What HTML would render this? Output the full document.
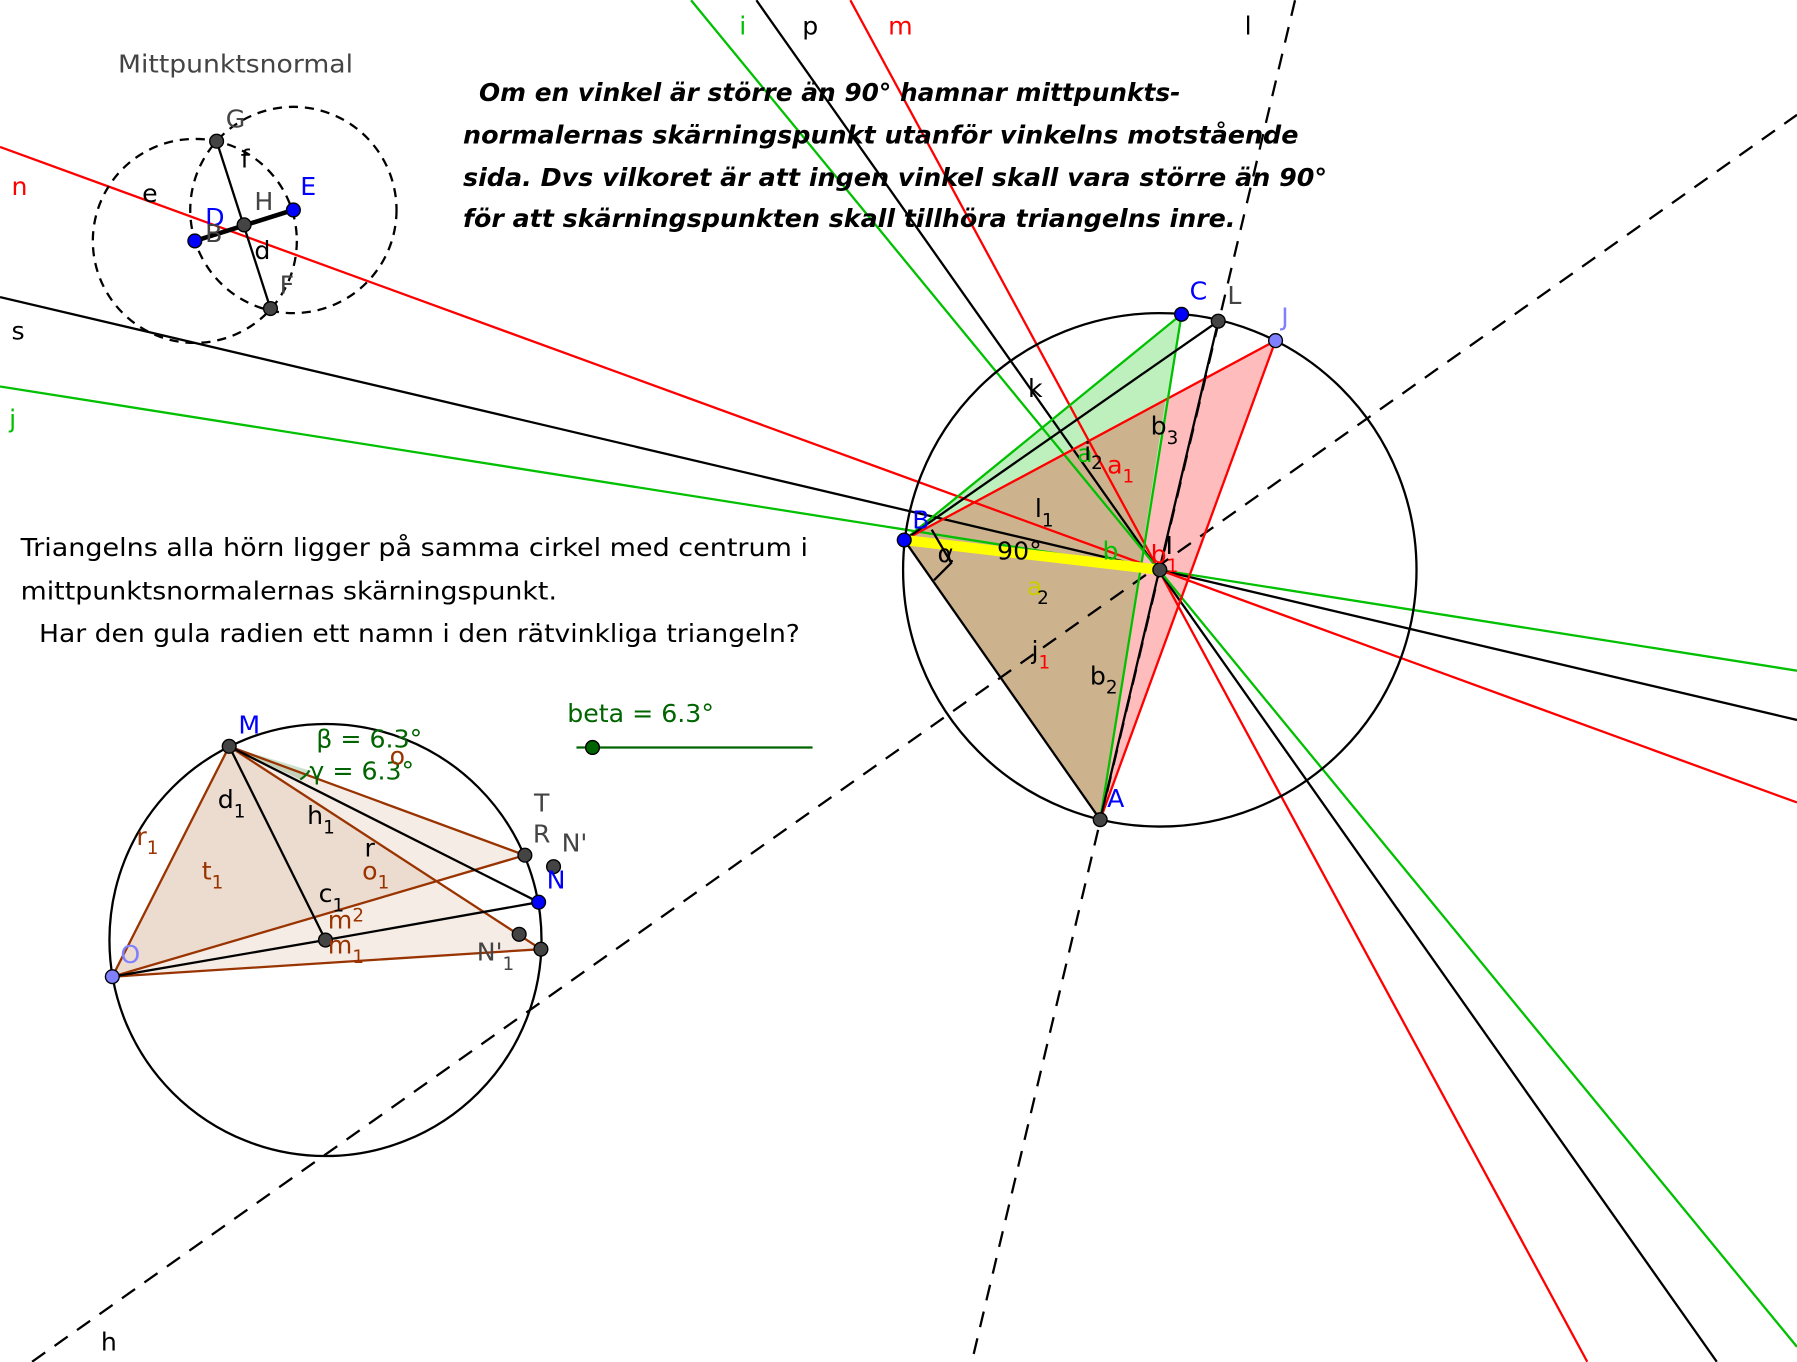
<!DOCTYPE html>
<html><head><meta charset="utf-8"><style>
html,body{margin:0;padding:0;background:#fff;}
svg{display:block;}
text{font-family:"DejaVu Sans","Liberation Sans",sans-serif;}
</style></head><body>
<svg width="1797" height="1362" viewBox="0 0 1568 1188" xmlns="http://www.w3.org/2000/svg">
<rect width="1568" height="1188" fill="#fff"/>
<polygon points="789,471 1113,297 960,715" fill="#ffbcbc"/>
<polygon points="789,471 1031,274 960,715" fill="#bdf0bd"/>
<polygon points="789,471 1017,349 960,715" fill="#cdb28e"/>
<polygon points="98,852 200,651 472,828" fill="#a0400a" fill-opacity="0.1"/>
<polygon points="98,852 200,651 458,746" fill="#a0400a" fill-opacity="0.1"/>
<polygon points="200,651 270,672 262,680" fill="#0a6a0a" fill-opacity="0.2"/>
<g fill="none" stroke-width="2">
<line x1="0" y1="337" x2="1568" y2="585" stroke="#00c000"/>
<line x1="0" y1="259" x2="1568" y2="628" stroke="#000"/>
<line x1="0" y1="128" x2="1568" y2="700" stroke="#f00"/>
<line x1="742" y1="0" x2="1385" y2="1188" stroke="#f00"/>
<line x1="660" y1="0" x2="1498" y2="1188" stroke="#000"/>
<line x1="603" y1="0" x2="1568" y2="1175" stroke="#00c000"/>
<line x1="1130" y1="0" x2="848" y2="1188" stroke="#000" stroke-dasharray="14,10"/>
<line x1="28" y1="1188" x2="1568" y2="100" stroke="#000" stroke-dasharray="14,10"/>
<circle cx="1012" cy="497" r="224" stroke="#000"/>
<polyline points="789,471 1113,297 960,715" stroke="#f00"/>
<polyline points="789,471 1031,274 960,715" stroke="#00c000"/>
<line x1="789" y1="471" x2="960" y2="715" stroke="#000"/>
<polyline points="789,471 1063,280 960,715" stroke="#000"/>
<line x1="789" y1="471" x2="1012" y2="497" stroke="#ff0" stroke-width="9"/>
<polyline points="813,462 830,491 815,506" stroke="#000"/>
<circle cx="170" cy="210" r="89" stroke="#000" stroke-dasharray="8,6"/>
<circle cx="256" cy="183" r="90" stroke="#000" stroke-dasharray="8,6"/>
<line x1="189" y1="123" x2="236" y2="269" stroke="#000"/>
<line x1="170" y1="210" x2="256" y2="183" stroke="#000" stroke-width="4"/>
<circle cx="284" cy="820" r="188.5" stroke="#000"/>
<g stroke="#993300">
<line x1="98" y1="852" x2="200" y2="651"/>
<line x1="200" y1="651" x2="458" y2="746"/>
<line x1="98" y1="852" x2="458" y2="746"/>
<line x1="200" y1="651" x2="472" y2="828"/>
<line x1="98" y1="852" x2="472" y2="828"/>
</g>
<line x1="200" y1="651" x2="284" y2="820" stroke="#000"/>
<polyline points="98,852 284,820 470,787" stroke="#000"/>
<line x1="200" y1="651" x2="470" y2="787" stroke="#000"/>
<path d="M262,680 Q268,676 270,672" stroke="#0a6a0a"/>
<line x1="503" y1="652" x2="709" y2="652" stroke="#006400"/>
</g>
<g stroke="#000" stroke-width="1.2">
<circle cx="789" cy="471" r="6" fill="#0000ff"/>
<circle cx="1031" cy="274" r="6" fill="#0000ff"/>
<circle cx="1063" cy="280" r="6" fill="#444"/>
<circle cx="1113" cy="297" r="6" fill="#8080ff"/>
<circle cx="960" cy="715" r="6" fill="#444"/>
<circle cx="1012" cy="497" r="6" fill="#444"/>
<circle cx="189" cy="123" r="6" fill="#444"/>
<circle cx="236" cy="269" r="6" fill="#444"/>
<circle cx="213" cy="196" r="6" fill="#444"/>
<circle cx="170" cy="210" r="6" fill="#0000ff"/>
<circle cx="256" cy="183" r="6" fill="#0000ff"/>
<circle cx="200" cy="651" r="6" fill="#444"/>
<circle cx="98" cy="852" r="6" fill="#8080ff"/>
<circle cx="458" cy="746" r="6" fill="#444"/>
<circle cx="470" cy="787" r="6" fill="#0000ff"/>
<circle cx="472" cy="828" r="6" fill="#444"/>
<circle cx="453" cy="815" r="6" fill="#444"/>
<circle cx="483" cy="756" r="6" fill="#444"/>
<circle cx="284" cy="820" r="6" fill="#444"/>
<circle cx="517" cy="652" r="6" fill="#006400"/>
</g>
<g font-size="22">
<text x="103" y="63" fill="#444" textLength="205" lengthAdjust="spacingAndGlyphs">Mittpunktsnormal</text>
<g font-family="DejaVu Sans" font-style="italic" font-weight="bold" font-size="22">
<text x="418" y="88" textLength="612" lengthAdjust="spacingAndGlyphs">Om en vinkel är större än 90° hamnar mittpunkts-</text>
<text x="404" y="125" textLength="729" lengthAdjust="spacingAndGlyphs">normalernas skärningspunkt utanför vinkelns motstående</text>
<text x="404" y="162" textLength="754" lengthAdjust="spacingAndGlyphs">sida. Dvs vilkoret är att ingen vinkel skall vara större än 90°</text>
<text x="404" y="198" textLength="674" lengthAdjust="spacingAndGlyphs">för att skärningspunkten skall tillhöra triangelns inre.</text>
</g>
<text x="18" y="485" textLength="687" lengthAdjust="spacingAndGlyphs">Triangelns alla hörn ligger på samma cirkel med centrum i</text>
<text x="18" y="523" textLength="468" lengthAdjust="spacingAndGlyphs">mittpunktsnormalernas skärningspunkt.</text>
<text x="34" y="560" textLength="664" lengthAdjust="spacingAndGlyphs">Har den gula radien ett namn i den rätvinkliga triangeln?</text>
<text x="495" y="630" fill="#006400">beta = 6.3°</text>
<text x="276" y="652" fill="#006400">β = 6.3°</text>
<text x="270" y="680" fill="#006400">γ = 6.3°</text>
<text x="340" y="667" fill="#993300">o</text>
<text x="645" y="30" fill="#00c000">i</text>
<text x="700" y="30">p</text>
<text x="775" y="30" fill="#f00">m</text>
<text x="1086" y="30">l</text>
<text x="10" y="170" fill="#f00">n</text>
<text x="10" y="296">s</text>
<text x="8" y="373" fill="#00c000">j</text>
<text x="88" y="1178">h</text>
<text x="197" y="111" fill="#444">G</text>
<text x="210" y="146">f</text>
<text x="124" y="176">e</text>
<text x="262" y="170" fill="#0000ff">E</text>
<text x="179" y="197" fill="#0000ff">D</text>
<text x="222" y="183" fill="#444">H</text>
<text x="179" y="211" fill="#444">B</text>
<text x="222" y="226">d</text>
<text x="244" y="256" fill="#444">F</text>
<text x="1038" y="261" fill="#0000ff">C</text>
<text x="1071" y="265" fill="#444">L</text>
<text x="1118" y="284" fill="#8080ff">J</text>
<text x="897" y="346">k</text>
<text x="1004" y="379">b<tspan font-size="16" dy="8">3</tspan></text>
<text x="940" y="403" fill="#00c000">a</text>
<text x="946" y="401">i<tspan font-size="16" dy="8">2</tspan></text>
<text x="966" y="413" fill="#f00">a<tspan font-size="16" dy="8">1</tspan></text>
<text x="903" y="451">l<tspan font-size="16" dy="8">1</tspan></text>
<text x="796" y="461" fill="#0000ff">B</text>
<text x="818" y="490">α</text>
<text x="870" y="488">90°</text>
<text x="962" y="488" fill="#00c000">b</text>
<text x="1004" y="491" fill="#f00">b<tspan font-size="16" dy="8">1</tspan></text>
<text x="1017" y="483">I</text>
<text x="896" y="519" fill="#cc0">a</text>
<text x="905" y="527"><tspan font-size="16">2</tspan></text>
<text x="900" y="575">j<tspan font-size="16" dy="8" fill="#f00">1</tspan></text>
<text x="951" y="597">b<tspan font-size="16" dy="8">2</tspan></text>
<text x="966" y="704" fill="#0000ff">A</text>
<text x="208" y="640" fill="#0000ff">M</text>
<text x="190" y="705">d<tspan font-size="16" dy="8">1</tspan></text>
<text x="119" y="737" fill="#993300">r<tspan font-size="16" dy="8">1</tspan></text>
<text x="268" y="719">h<tspan font-size="16" dy="8">1</tspan></text>
<text x="318" y="747">r</text>
<text x="176" y="767" fill="#993300">t<tspan font-size="16" dy="8">1</tspan></text>
<text x="316" y="767" fill="#993300">o<tspan font-size="16" dy="8">1</tspan></text>
<text x="278" y="787">c<tspan font-size="16" dy="8">1</tspan></text>
<text x="286" y="810" fill="#993300">m<tspan font-size="16" dy="-6">2</tspan></text>
<text x="286" y="832" fill="#993300">m<tspan font-size="16" dy="8">1</tspan></text>
<text x="466" y="708" fill="#444">T</text>
<text x="465" y="735" fill="#444">R</text>
<text x="490" y="743" fill="#444">N'</text>
<text x="477" y="775" fill="#0000ff">N</text>
<text x="416" y="838" fill="#444">N'<tspan font-size="16" dy="8">1</tspan></text>
<text x="105" y="840" fill="#8080ff">O</text>
</g>
</svg>
</body></html>
